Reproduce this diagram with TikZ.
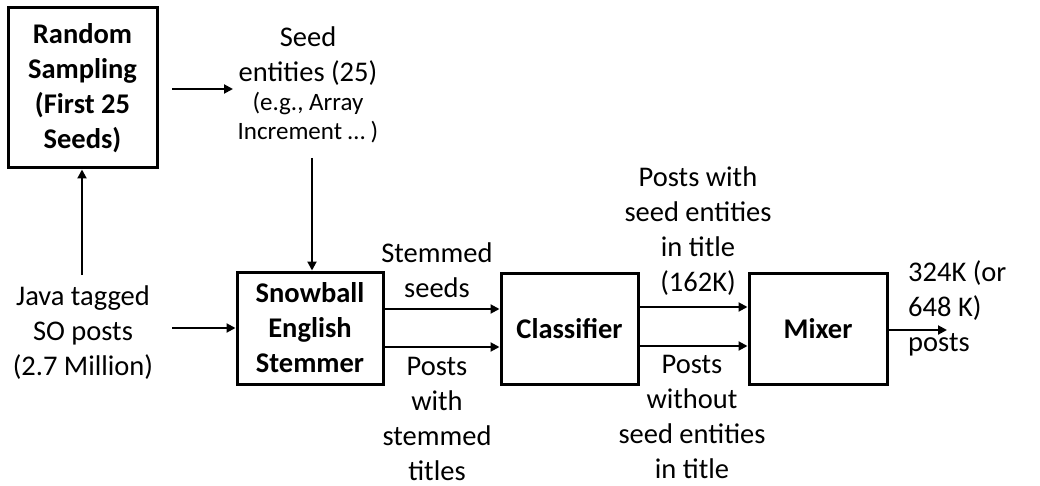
\documentclass[tikz,border=0pt]{standalone}
\usepackage{fontspec}
\setmainfont{Carlito}
\usetikzlibrary{arrows.meta}
\begin{document}
\begin{tikzpicture}[x=1pt,y=-1pt,
  txt/.style={align=center,inner sep=0pt,font=\fontsize{28.5}{35}\selectfont},
  box/.style={draw,line width=3pt,align=center,inner sep=0pt,
    font=\bfseries\fontsize{28.5}{35}\selectfont},
  arr/.style={line width=2pt,-{Triangle[length=9pt,width=9pt]}}]
\useasboundingbox (0,0) rectangle (1040,486);

% processing boxes
\node[box,minimum width=149pt,minimum height=160pt] (rand) at (82.5,88) {Random\\Sampling\\(First 25\\Seeds)};
\node[box,minimum width=146pt,minimum height=112pt] (snow) at (310,328) {Snowball\\English\\Stemmer};
\node[box,minimum width=137pt,minimum height=111pt] (class) at (569.5,328.5) {Classifier};
\node[box,minimum width=138pt,minimum height=111pt] (mixer) at (818,328.5) {Mixer};

% data labels
\node[txt] (seed) at (308,85) {Seed\\entities (25)\\[-6pt]{\fontsize{25}{30}\selectfont (e.g., Array}\\[-6pt]{\fontsize{25}{30}\selectfont Increment … )}};
\node[txt] (java) at (83,333) {Java tagged\\SO posts\\(2.7 Million)};
\node[txt] (stseeds) at (437,270) {Stemmed\\seeds};
\node[txt] (sttitles) at (437,419) {Posts\\with\\stemmed\\titles};
\node[txt] (withseed) at (698,231) {Posts with\\seed entities\\in title\\(162K)};
\node[txt] (noseed) at (692,417) {Posts\\without\\seed entities\\in title};
\node[txt,align=left,anchor=west] (out) at (908,308) {324K (or\\648 K)\\posts};

% free ends of the connectors
\coordinate (randout) at (172,89);
\coordinate (seedin) at (233,89);
\coordinate (seeddown) at (312,158);
\coordinate (javaup) at (82,275);
\coordinate (javaout) at (172,328);
\coordinate (mixend) at (947,330);
\path ([yshift=19pt]snow.east) coordinate (s1)
      ([yshift=-19pt]snow.east) coordinate (s2)
      ([yshift=21.5pt]class.east) coordinate (c1)
      ([yshift=-17.5pt]class.east) coordinate (c2);

% connectors
\draw[arr] (randout) -- (seedin);
\draw[arr] (seeddown) -- (seeddown |- snow.north);
\draw[arr] (javaup) -- (javaup |- rand.south);
\draw[arr] (javaout) -- (snow.west |- javaout);
\draw[arr] (s1) -- (class.west |- s1);
\draw[arr] (s2) -- (class.west |- s2);
\draw[arr] (c1) -- (mixer.west |- c1);
\draw[arr] (c2) -- (mixer.west |- c2);
\draw[arr] (mixer.east |- mixend) -- (mixend);
\end{tikzpicture}
\end{document}
